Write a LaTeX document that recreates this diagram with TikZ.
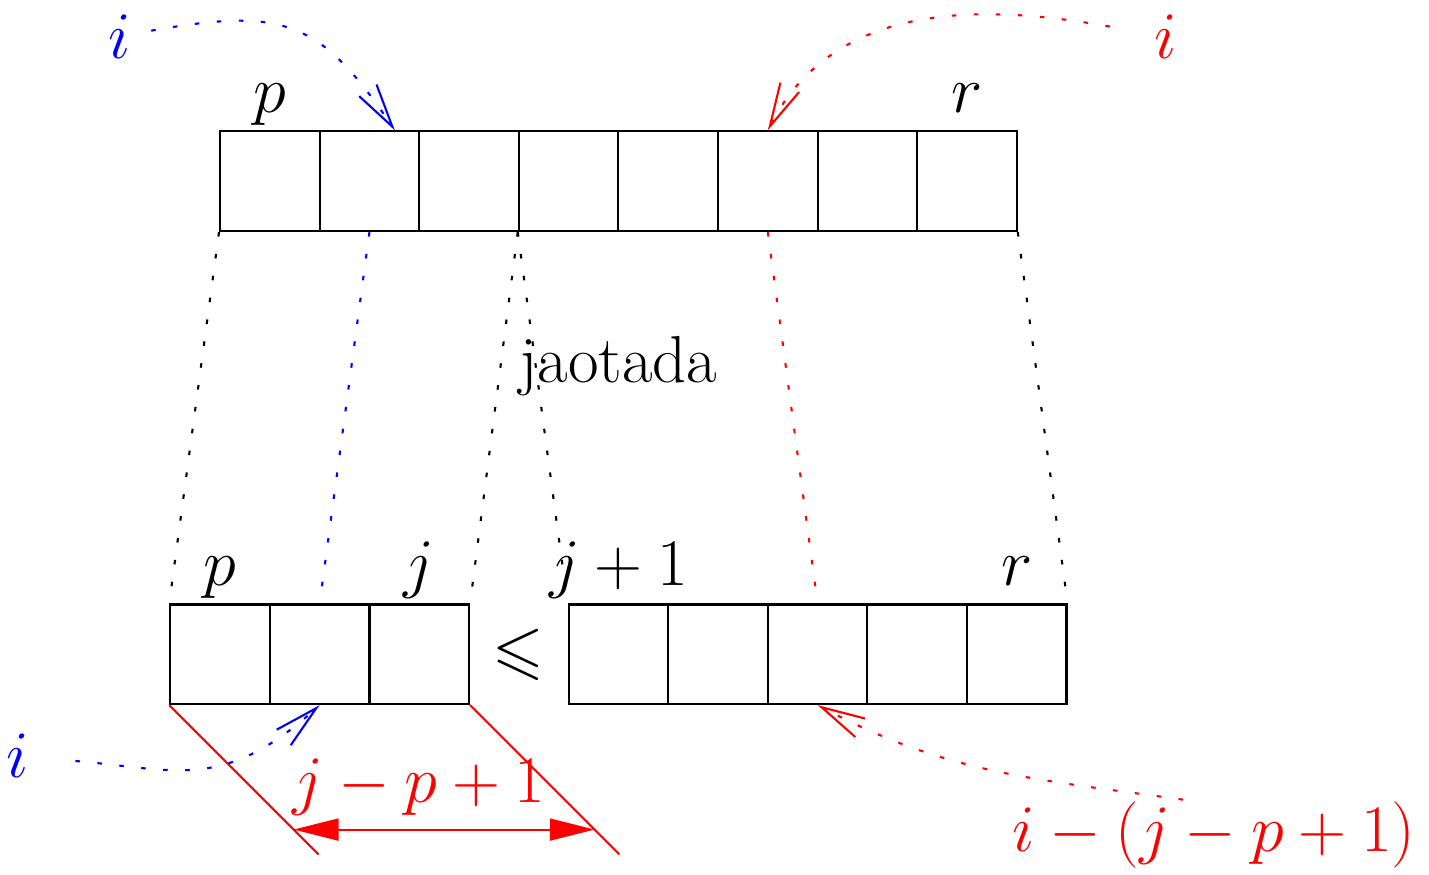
\RequirePackage{fix-cm}
\documentclass[tikz,border=0pt]{standalone}
\usepackage{amssymb}
\usetikzlibrary{arrows.meta, positioning, calc}
\tikzset{
  % one slot of an array
  cell/.style={
    rectangle, draw, line width=0.6pt,
    minimum size=1cm, inner sep=0pt
  },
  % labels above the slots (same box, so baselines line up)
  lbl/.style={
    font=\fontsize{19}{23}\selectfont,
    inner sep=0pt, text height=0.7em, text depth=0.2em
  },
  % index labels that the pointers start from
  idx/.style={font=\fontsize{19}{23}\selectfont, inner sep=2mm},
  guide/.style={line width=0.6pt, dash pattern=on 1.3pt off 5pt},
  ptr/.style={guide, -{Straight Barb[length=4.4mm, width=2.1mm]}},
  dim/.style={red, line width=0.6pt},
  span/.style={dim, {Triangle[length=4.5mm, width=2.2mm]}-{Triangle[length=4.5mm, width=2.2mm]}}
}
\begin{document}
\begin{tikzpicture}
  \useasboundingbox (-2.21,-6.46) rectangle (12.14,2.32);

  %% ── whole array A[p..r] ──────────────────────────────────────────────────
  \foreach \k in {0,...,7}
    \node[cell] (t\k) at (\k+0.5,0.5) {};
  \node[lbl, above=1mm of t0] (tp) {$p$};
  \node[lbl, above=1mm of t7] (tr) {$r$};

  %% ── the two parts after the split ────────────────────────────────────────
  \foreach \k in {0,1,2}
    \node[cell] (l\k) at (\k,-4.25) {};
  \foreach \k in {0,...,4}
    \node[cell] (r\k) at (\k+4,-4.25) {};
  \node[lbl, above=1mm of l0] (lp) {$p$};
  \node[lbl, above=1mm of l2] (lj) {$j$};
  \node[lbl, above=1mm of r0] (rj) {$j+1$};
  \node[lbl, above=1mm of r4] (rr) {$r$};
  \node[lbl] (leq) at (3,-4.34) {$\leqslant$};

  \node[lbl, anchor=base] (split) at (4,-1.52) {jaotada};

  \draw[guide]       (t0.south west) -- (l0.north west);
  \draw[guide, blue] (t1.south)      -- (l1.north);
  \draw[guide]       (t3.south west) -- (l2.north east);
  \draw[guide]       (t3.south west) -- (r0.north west);
  \draw[guide, red]  (t5.south)      -- (r2.north);
  \draw[guide]       (t7.south east) -- (r4.north east);

  %% ── length of the left part ──────────────────────────────────────────────
  \coordinate (eL) at ($(l0.south west)+(1.5,-1.5)$);
  \coordinate (eR) at ($(l2.south east)+(1.5,-1.5)$);
  \draw[dim] (l0.south west) -- (eL);
  \draw[dim] (l2.south east) -- (eR);
  \draw[span] ($(l0.south west)!5/6!(eL)$) -- ($(l2.south east)!5/6!(eR)$);
  \node[idx, red, anchor=base, inner sep=0pt] (len) at (2,-5.74) {$j-p+1$};

  %% ── index pointers ───────────────────────────────────────────────────────
  \node[idx, blue, anchor=base] (ib1) at (-1.01,1.737) {$i$};
  \node[idx, red,  anchor=base] (ir1) at (9.49,1.737)  {$i$};
  \node[idx, blue, anchor=base] (ib2) at (-2.03,-5.49) {$i$};
  \node[idx, red,  anchor=base, inner sep=0.5pt] (ired) at (9.98,-6.235)
    {$i-(j-p+1)$};

  \draw[ptr, blue] (ib1) to[out=10, in=124, looseness=1.3]
    ($(t1.north)!0.5!(t1.north east)$);
  \draw[ptr, red, shorten <=2.4mm] (ir1) to[out=170, in=63] (t5.north);
  \draw[ptr, blue, shorten <=2.6mm] (ib2) to[out=-5, in=222, looseness=1.2]
    (l1.south);
  \draw[ptr, red] ([xshift=-3.1mm]ired.north) to[out=172, in=-28] (r2.south);

\end{tikzpicture}
\end{document}
